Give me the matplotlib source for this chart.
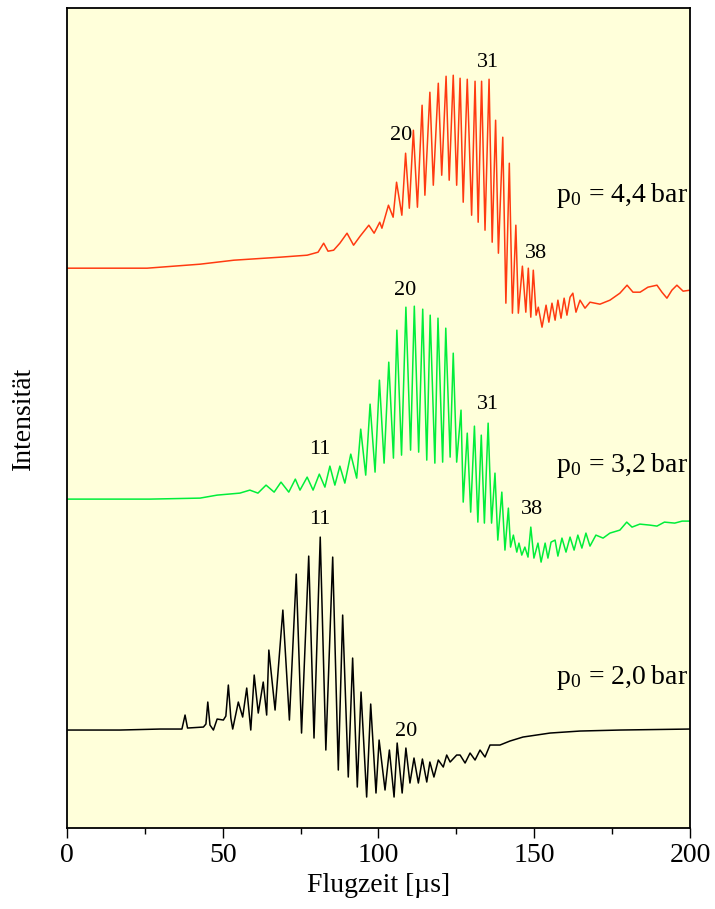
import matplotlib
matplotlib.use("Agg")
import matplotlib.pyplot as plt
from matplotlib.ticker import MultipleLocator

plt.rcParams['font.family'] = ['Liberation Serif', 'DejaVu Serif']
plt.rcParams['mathtext.fontset'] = 'stix'

# Flight time [µs] and intensity (arb. units)
t_red = [0, 25.7, 42.7, 53.6, 68.4, 77.1, 80.6, 82.4, 83.8, 85.6, 87.6, 89.9, 92.0, 94.1,
         96.9, 98.6, 100.4, 101.1, 103.2, 104.7, 105.8, 107.5, 108.7, 109.9, 111.2, 112.5,
         114.0, 114.9, 116.5, 117.6, 119.2, 120.3, 121.7, 122.7, 124.0, 125.1, 126.2, 127.2,
         128.5, 129.9, 131.0, 132.0, 133.1, 134.2, 135.5, 136.5, 137.6, 138.5, 139.9, 140.9,
         142.0, 143.0, 144.1, 144.9, 146.2, 147.3, 148.1, 148.9, 149.7, 150.6, 151.3, 152.5,
         153.8, 154.7, 155.7, 156.7, 157.6, 158.6, 159.6, 160.5, 161.5, 162.4, 163.4, 164.7,
         166.3, 167.9, 171.1, 174.3, 177.5, 179.8, 181.7, 184.0, 186.5, 189.4, 191.0, 192.6,
         194.2, 195.8, 197.8, 200]
i_red = [560, 560, 564, 568, 571, 573, 576, 585, 577, 578, 585, 595, 583, 592,
         603, 595, 606, 600, 623, 611, 646, 613, 675, 620, 698, 621,
         723, 633, 736, 643, 745, 653, 752, 648, 753, 643, 750, 626,
         749, 613, 747, 606, 747, 598, 749, 586, 708, 575, 691, 525,
         665, 515, 603, 515, 562, 516, 560, 511, 558, 513, 521, 501,
         523, 506, 525, 508, 528, 510, 530, 513, 531, 535, 516, 528,
         520, 526, 524, 528, 535, 543, 536, 536, 541, 543, 536, 530,
         538, 543, 537, 538]

t_green = [0, 26.6, 42.7, 48.2, 55.5, 58.7, 61.3, 63.9, 66.5, 68.7, 71.2, 73.3, 74.8, 77.1,
           79.0, 81.0, 82.8, 84.4, 86.0, 87.6, 89.2, 91.1, 93.0, 94.3, 95.9, 97.3, 98.9,
           100.3, 101.8, 103.3, 104.8, 105.9, 107.4, 108.8, 110.3, 111.5, 112.9, 114.2, 115.5,
           116.6, 118.1, 119.1, 120.6, 121.6, 123.0, 124.0, 125.1, 126.5, 127.2, 128.5, 129.6,
           130.8, 131.9, 133.0, 134.0, 135.2, 136.3, 137.4, 138.3, 139.6, 140.6, 141.7, 142.4,
           143.3, 144.4, 145.1, 146.0, 147.0, 148.0, 148.9, 149.9, 151.2, 152.2, 153.5, 154.4,
           155.4, 156.7, 157.6, 158.9, 160.2, 161.5, 162.8, 164.0, 165.3, 166.6, 167.9, 169.8,
           172.1, 174.3, 177.5, 179.7, 181.4, 183.9, 187.1, 189.4, 191.8, 195.1, 197.5, 200]
i_green = [329, 329, 330, 333, 335, 338, 335, 343, 336, 346, 336, 349, 338, 351,
           338, 354, 341, 362, 343, 362, 345, 374, 350, 399, 353, 424, 356,
           448, 365, 466, 370, 498, 373, 521, 378, 522, 376, 519, 368,
           513, 365, 510, 366, 500, 371, 475, 366, 418, 326, 395, 316,
           402, 306, 393, 305, 405, 305, 355, 288, 336, 278, 320, 281,
           293, 276, 285, 273, 281, 271, 301, 270, 285, 266, 285, 270,
           286, 288, 272, 290, 276, 291, 278, 293, 280, 295, 282, 293,
           290, 295, 298, 306, 301, 304, 303, 302, 306, 305, 307, 307]

t_black = [0, 17.0, 29.9, 36.9, 37.9, 38.7, 43.8, 44.6, 45.2, 45.9, 47.0, 48.2, 50.2, 51.0,
           51.8, 52.6, 53.2, 55.0, 56.4,
           57.7, 59.0, 60.1, 61.4, 63.0, 64.1, 64.8, 66.8, 69.3, 71.4, 73.6, 75.3, 77.6,
           79.3, 81.3, 83.1, 85.3, 87.1, 88.5, 90.3, 91.7, 93.2, 94.4, 96.2, 97.5, 99.2,
           100.2, 102.1, 103.5, 105.0, 106.0, 107.6, 108.8, 110.1, 111.4, 112.8, 114.1, 115.5,
           116.5, 117.8, 119.2, 120.8, 121.9, 123.0, 125.1, 126.2, 127.8, 129.4, 131.0, 132.6,
           134.2, 135.8, 139.0, 142.2, 146.4, 155.1, 164.7, 177.5, 200]
i_black = [98, 98, 99, 99, 113, 100, 101, 104, 126, 103, 98, 109, 108, 112,
           143, 110, 99, 126, 111,
           140, 98, 153, 115, 146, 113, 178, 118, 218, 108, 254, 95, 272,
           90, 291, 78, 271, 58, 213, 51, 170, 41, 136, 31, 124, 35,
           88, 38, 78, 31, 85, 35, 80, 45, 70, 45, 69, 46,
           66, 51, 68, 61, 73, 66, 73, 73, 65, 75, 68, 78,
           71, 83, 83, 87, 91, 95, 97, 98, 99]

# Peak annotations: (text, time, intensity)
peak_labels_red = [("20", 107.2, 693), ("31", 135.2, 766), ("38", 150.6, 575)]
peak_labels_green = [("20", 108.5, 538), ("11", 81.2, 379), ("31", 135.2, 424), ("38", 149.3, 319)]
peak_labels_black = [("11", 81.2, 309), ("20", 108.8, 97)]

pressure_labels = [("4,4", 633), ("3,2", 363), ("2,0", 151)]

x_ticks = [0, 50, 100, 150, 200]

fig = plt.figure(figsize=(7.15, 9.09), dpi=100)
ax = fig.add_axes([0.0937, 0.0891, 0.8713, 0.9018])
ax.set_facecolor('#FFFFDA')

ax.plot(t_red, i_red, color='#FF3A10', lw=1.1)
ax.plot(t_green, i_green, color='#00EE3A', lw=1.1)
ax.plot(t_black, i_black, color='black', lw=1.1)

for labels in (peak_labels_red, peak_labels_green, peak_labels_black):
    for txt, tx, ty in labels:
        ax.text(tx, ty, txt, fontsize=16, ha='center', va='center')

for p, ty in pressure_labels:
    ax.text(199.4, ty, r"p$_\mathregular{0}$ = " + p + "\u2009bar", fontsize=20,
            ha='right', va='center')

ax.set_xlim(0, 200)
ax.set_ylim(0, 820)
ax.set_xticks(x_ticks)
ax.xaxis.set_minor_locator(MultipleLocator(25))
ax.tick_params(axis='x', which='major', direction='out', length=7, width=1, labelsize=20)
ax.tick_params(axis='x', which='minor', direction='out', length=4, width=1)
ax.set_yticks([])
for s in ax.spines.values():
    s.set_linewidth(1.3)

ax.set_xlabel("Flugzeit [µs]", fontsize=20, labelpad=4)
ax.set_ylabel("Intensität", fontsize=20, labelpad=22)

fig.savefig("out.png", dpi=100)
